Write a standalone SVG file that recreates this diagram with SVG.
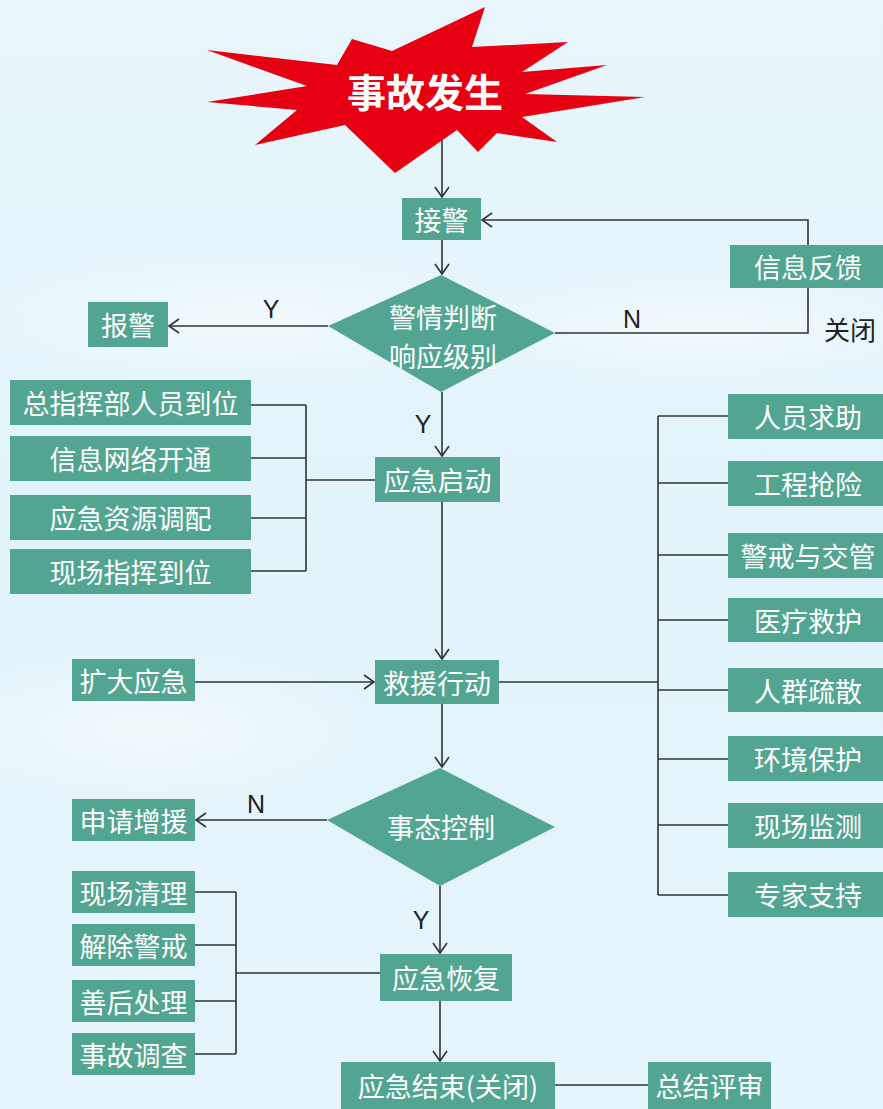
<svg xmlns="http://www.w3.org/2000/svg" width="883" height="1109" viewBox="0 0 883 1109">
<defs>
<linearGradient id="bg" x1="0" y1="0" x2="0" y2="1">
<stop offset="0" stop-color="#E8F6FB"/>
<stop offset="0.5" stop-color="#E2F3FA"/>
<stop offset="1" stop-color="#E6F5FB"/>
</linearGradient>
<radialGradient id="fog" cx="0.5" cy="0.5" r="0.5">
<stop offset="0" stop-color="#FFFFFF" stop-opacity="0.55"/>
<stop offset="1" stop-color="#FFFFFF" stop-opacity="0"/>
</radialGradient>
<marker id="arr" markerWidth="14" markerHeight="16" viewBox="-12 -8 14 16" refX="0" refY="0" orient="auto" markerUnits="userSpaceOnUse">
<path d="M-10,-7 L0,0 L-10,7" fill="none" stroke="#333" stroke-width="1.6"/>
</marker>
</defs>
<style>
.box{fill:#52A591}
.t{fill:#FFFFFF;font-family:"Noto Sans CJK SC","Noto Sans",sans-serif;font-size:27px;text-anchor:middle;dominant-baseline:central}
.lbl{fill:#222;font-family:"Liberation Sans",Arial,sans-serif;font-size:25px;text-anchor:middle}
.c{fill:none;stroke:#333;stroke-width:1.6}
</style>
<rect width="883" height="1109" fill="url(#bg)"/>
<ellipse cx="250" cy="320" rx="300" ry="70" fill="url(#fog)"/>
<ellipse cx="700" cy="330" rx="260" ry="60" fill="url(#fog)"/>
<ellipse cx="150" cy="730" rx="250" ry="80" fill="url(#fog)"/>

<g id="start">
<polygon points="207,50 337,65 352,39 392,51 485,7 472,47 568,42 522,72 607,65 525,94 645,97 522,117 557,142 497,133 478,152 457,130 395,173 345,125 255,145 297,110 207,102 307,86" fill="#E60012"/>
<text x="425" y="90" fill="#FFFFFF" font-family="Noto Sans CJK SC,sans-serif" font-size="39" font-weight="bold" text-anchor="middle" dominant-baseline="central">事故发生</text>
</g>

<g id="connectors">
<path class="c" d="M442,140 V197" marker-end="url(#arr)"/>
<path class="c" d="M442,240 V274" marker-end="url(#arr)"/>
<path class="c" d="M328,326 H169" marker-end="url(#arr)"/>
<path class="c" d="M555,333 H808 V288"/>
<path class="c" d="M808,245 V220 H482" marker-end="url(#arr)"/>
<path class="c" d="M442,392 V456" marker-end="url(#arr)"/>
<path class="c" d="M251,405 H306 M251,458 H306 M251,518 H306 M251,571 H306 M306,405 V571 M306,480 H375"/>
<path class="c" d="M442,502 V659" marker-end="url(#arr)"/>
<path class="c" d="M195,682 H374" marker-end="url(#arr)"/>
<path class="c" d="M499,682 H658 M658,416 V895 M658,416 H728 M658,483 H728 M658,555 H728 M658,620 H728 M658,690 H728 M658,759 H728 M658,825 H728 M658,895 H728"/>
<path class="c" d="M442,704 V767" marker-end="url(#arr)"/>
<path class="c" d="M327,820 H196" marker-end="url(#arr)"/>
<path class="c" d="M440,886 V953" marker-end="url(#arr)"/>
<path class="c" d="M195,892 H236 M195,945 H236 M195,1001 H236 M195,1054 H236 M236,892 V1054 M236,973 H380"/>
<path class="c" d="M440,1001 V1061" marker-end="url(#arr)"/>
<path class="c" d="M555,1085 H648"/>
<text class="lbl" x="271" y="318">Y</text>
<text class="lbl" x="632" y="328">N</text>
<text class="lbl" x="423" y="433">Y</text>
<text class="lbl" x="256" y="813">N</text>
<text class="lbl" x="421" y="929">Y</text>
<text x="850" y="328" fill="#222" font-family="Noto Sans CJK SC,sans-serif" font-size="26" text-anchor="middle" dominant-baseline="central">关闭</text>
</g>

<g id="jiejing"><rect class="box" x="402" y="198" width="79" height="42"/><text class="t" x="441.5" y="219">接警</text></g>
<g id="panduan"><polygon class="box" points="441,275 555,333 441,392 328,326"/><text class="t" x="443" y="316">警情判断</text><text class="t" x="443" y="355">响应级别</text></g>
<g id="baojing"><rect class="box" x="88" y="302" width="80" height="45"/><text class="t" x="128" y="324.5">报警</text></g>
<g id="fankui"><rect class="box" x="730" y="245" width="153" height="43"/><text class="t" x="808" y="266.5">信息反馈</text></g>

<g id="qidong"><rect class="box" x="375" y="457" width="125" height="45"/><text class="t" x="437.5" y="479.5">应急启动</text></g>
<g id="l1"><rect class="box" x="10" y="380" width="241" height="45"/><text class="t" x="130.5" y="402.5">总指挥部人员到位</text></g>
<g id="l2"><rect class="box" x="10" y="436" width="241" height="45"/><text class="t" x="130.5" y="458.5">信息网络开通</text></g>
<g id="l3"><rect class="box" x="10" y="495" width="241" height="45"/><text class="t" x="130.5" y="517.5">应急资源调配</text></g>
<g id="l4"><rect class="box" x="10" y="549" width="241" height="45"/><text class="t" x="130.5" y="571.5">现场指挥到位</text></g>

<g id="jiuyuan"><rect class="box" x="375" y="660" width="124" height="44"/><text class="t" x="437" y="682">救援行动</text></g>
<g id="kuoda"><rect class="box" x="72" y="659" width="123" height="42"/><text class="t" x="133.5" y="680">扩大应急</text></g>

<g id="r1"><rect class="box" x="728" y="394" width="155" height="45"/><text class="t" x="808" y="416.5">人员求助</text></g>
<g id="r2"><rect class="box" x="728" y="461" width="155" height="45"/><text class="t" x="808" y="483.5">工程抢险</text></g>
<g id="r3"><rect class="box" x="728" y="533" width="155" height="45"/><text class="t" x="808" y="555.5">警戒与交管</text></g>
<g id="r4"><rect class="box" x="728" y="598" width="155" height="44"/><text class="t" x="808" y="620">医疗救护</text></g>
<g id="r5"><rect class="box" x="728" y="668" width="155" height="44"/><text class="t" x="808" y="690">人群疏散</text></g>
<g id="r6"><rect class="box" x="728" y="736" width="155" height="45"/><text class="t" x="808" y="758.5">环境保护</text></g>
<g id="r7"><rect class="box" x="728" y="803" width="155" height="45"/><text class="t" x="808" y="825.5">现场监测</text></g>
<g id="r8"><rect class="box" x="728" y="872" width="155" height="45"/><text class="t" x="808" y="894.5">专家支持</text></g>

<g id="kongzhi"><polygon class="box" points="440,768 555,827 440,886 327,820"/><text class="t" x="441" y="826">事态控制</text></g>
<g id="zengyuan"><rect class="box" x="72" y="799" width="123" height="42"/><text class="t" x="133.5" y="820">申请增援</text></g>

<g id="huifu"><rect class="box" x="380" y="954" width="132" height="47"/><text class="t" x="446" y="977.5">应急恢复</text></g>
<g id="b1"><rect class="box" x="72" y="871" width="123" height="42"/><text class="t" x="133.5" y="892">现场清理</text></g>
<g id="b2"><rect class="box" x="72" y="924" width="123" height="42"/><text class="t" x="133.5" y="945">解除警戒</text></g>
<g id="b3"><rect class="box" x="72" y="980" width="123" height="42"/><text class="t" x="133.5" y="1001">善后处理</text></g>
<g id="b4"><rect class="box" x="72" y="1033" width="123" height="42"/><text class="t" x="133.5" y="1054">事故调查</text></g>

<g id="jieshu"><rect class="box" x="341" y="1062" width="214" height="47"/><text class="t" x="448" y="1085.5">应急结束(关闭)</text></g>
<g id="pingshen"><rect class="box" x="648" y="1062" width="123" height="47"/><text class="t" x="709.5" y="1085.5">总结评审</text></g>
</svg>
